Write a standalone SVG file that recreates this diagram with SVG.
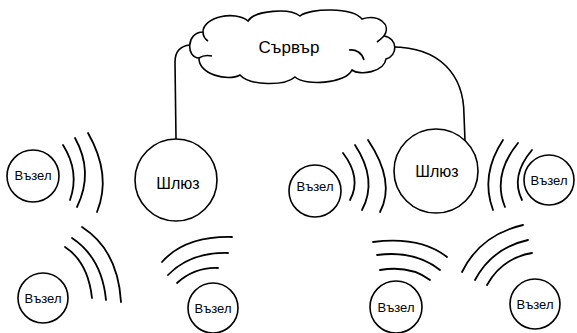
<svg xmlns="http://www.w3.org/2000/svg" width="577" height="333" viewBox="0 0 577 333">
<style>
.s{fill:none;stroke:#000;stroke-width:1.6}
.c{fill:#fff;stroke:#000;stroke-width:1.6}
.t{font-family:"Liberation Sans",Arial,sans-serif;fill:#000;text-anchor:middle;dominant-baseline:central}
.n{font-size:13px}
.g{font-size:16px}
.v{font-size:17px}
.w{fill:none;stroke:#000;stroke-width:1.8;stroke-linecap:round}
</style>
<rect width="577" height="333" fill="#fff"/>
<g id="connectors">
<path class="s" d="M176,139 L175,62 C175,52 180,46 190,45"/>
<path class="s" d="M392,47 C440,47 464,75 464,115 L465,141"/>
</g>
<g id="server">
<path class="c" d="M199,58 C186,58 186,32 203,32 C203,17 235,10 248,21 C255,10 290,8 300,16 C310,8 352,7 362,19 C378,14 392,24 384,36 C398,38 398,56 386,59 C384,72 360,76 352,70 C345,84 305,86 295,77 C285,86 250,86 240,75 C228,82 198,74 199,58 Z"/>
<path class="s" d="M199,58 C202,56 207,55 212,56"/>
<path class="s" d="M203,32 C203,36 205,39 208,41"/>
<path class="s" d="M384,36 C382,38 380,40 377,42"/>
<path class="s" d="M349,50 C356,49 362,53 364,60"/>
<text class="t v" x="289" y="47">Сървър</text>
</g>
<g id="gateway1">
<circle class="c" cx="176" cy="180" r="41"/>
<text class="t g" x="178" y="183">Шлюз</text>
</g>
<g id="gateway2">
<circle class="c" cx="436" cy="171" r="42"/>
<text class="t g" x="437" y="171">Шлюз</text>
</g>
<g id="node1">
<circle class="c" cx="33" cy="176" r="26"/>
<text class="t n" x="33" y="175">Възел</text>
<path class="w" d="M63,145 Q80,172 70,200"/>
<path class="w" d="M75,138 Q94,172 77,207"/>
<path class="w" d="M88,133 Q112,175 97,212"/>
</g>
<g id="node2">
<circle class="c" cx="315" cy="191" r="26"/>
<text class="t n" x="315" y="186">Възел</text>
<path class="w" d="M343,153 Q362,178 350,200"/>
<path class="w" d="M355,145 Q378,180 362,210"/>
<path class="w" d="M368,140 Q396,182 380,212"/>
</g>
<g id="node3">
<circle class="c" cx="549" cy="180" r="25"/>
<text class="t n" x="549" y="180">Възел</text>
<path class="w" d="M503,140 Q480,175 493,210"/>
<path class="w" d="M518,143 Q492,175 505,207"/>
<path class="w" d="M532,150 Q510,176 522,200"/>
</g>
<g id="node4">
<circle class="c" cx="43" cy="298" r="25"/>
<text class="t n" x="43" y="298">Възел</text>
<path class="w" d="M65,247 Q88,262 92,298"/>
<path class="w" d="M72,238 Q102,258 106,300"/>
<path class="w" d="M82,227 Q118,250 121,302"/>
</g>
<g id="node5">
<circle class="c" cx="213" cy="308" r="25"/>
<text class="t n" x="213" y="308">Възел</text>
<path class="w" d="M162,262 Q185,236 232,237"/>
<path class="w" d="M168,275 Q190,252 228,253"/>
<path class="w" d="M177,283 Q195,267 218,268"/>
</g>
<g id="node6">
<circle class="c" cx="396" cy="307" r="26"/>
<text class="t n" x="396" y="307">Възел</text>
<path class="w" d="M373,242 Q420,236 447,257"/>
<path class="w" d="M377,255 Q415,250 440,270"/>
<path class="w" d="M380,270 Q410,265 430,280"/>
</g>
<g id="node7">
<circle class="c" cx="535" cy="304" r="25"/>
<text class="t n" x="535" y="304">Възел</text>
<path class="w" d="M462,272 Q480,235 523,225"/>
<path class="w" d="M475,280 Q492,248 528,240"/>
<path class="w" d="M487,285 Q502,258 532,253"/>
</g>
</svg>
